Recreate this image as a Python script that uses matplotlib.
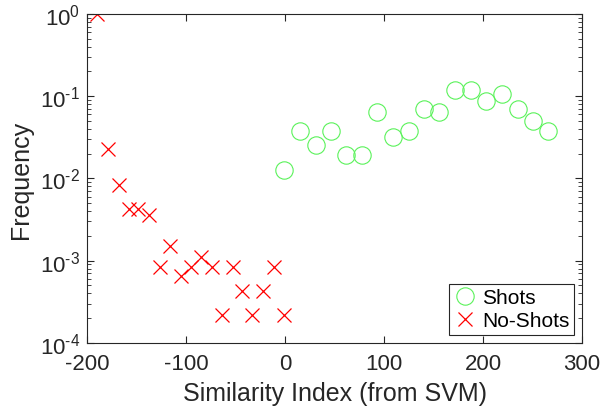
import numpy as np
import matplotlib
matplotlib.use("Agg")
import matplotlib.pyplot as plt
from matplotlib.ticker import LogLocator, NullFormatter, FuncFormatter

plt.rcParams['font.family'] = ['Liberation Sans', 'DejaVu Sans']
plt.rcParams['axes.unicode_minus'] = False
plt.rcParams['mathtext.fontset'] = 'custom'
plt.rcParams['mathtext.rm'] = 'Liberation Sans'
plt.rcParams['mathtext.it'] = 'Liberation Sans'

shots_x = [-1, 15, 31, 46, 62, 78, 93, 109, 125, 140, 156, 172, 188, 203, 219, 235, 250, 266]
shots_y = [0.0128, 0.038, 0.0255, 0.038, 0.0193, 0.0193, 0.064, 0.032, 0.038, 0.070,
           0.064, 0.12, 0.12, 0.088, 0.106, 0.070, 0.050, 0.038]

noshots_x = [-190, -179, -168, -158, -148, -137, -126, -116, -105, -95,
             -85, -74, -64, -53, -43, -33, -22, -11, -1]
noshots_y = [1.0, 0.0229, 0.0084, 0.0043, 0.0042, 0.0036, 0.00085, 0.0015, 0.00066, 0.00085,
             0.0011, 0.00085, 0.00022, 0.00085, 0.00043, 0.00022, 0.00043, 0.00085, 0.00022]

fig = plt.figure(figsize=(6.02, 4.10), dpi=100)
ax = fig.add_axes([0.1445, 0.161, 0.8223, 0.8025])

ax.semilogy(shots_x, shots_y, 'o', mfc='none', mec=(0.35, 0.95, 0.35), ms=12.5, mew=0.8, label='Shots')
ax.semilogy(noshots_x, noshots_y, 'x', color='red', ms=10.5, mew=0.9, label='No-Shots')

ax.set_xlim(-200, 300)
ax.set_ylim(1e-4, 1)
ax.set_xticks([-200, -100, 0, 100, 200, 300])
ax.yaxis.set_major_locator(LogLocator(base=10, numticks=10))
ax.yaxis.set_minor_locator(LogLocator(base=10, subs=np.arange(2, 10), numticks=10))
ax.yaxis.set_minor_formatter(NullFormatter())

def powfmt(v, pos):
    e = int(round(np.log10(v)))
    if e < 0:
        return r'$10^{\text{-}%d}$' % (-e)
    return r'$10^{%d}$' % e

ax.yaxis.set_major_formatter(FuncFormatter(powfmt))

gray = (0.15, 0.15, 0.15)
for s in ax.spines.values():
    s.set_color(gray)
    s.set_linewidth(0.8)
ax.tick_params(which='both', direction='in', top=True, right=True, colors=gray, labelcolor=gray, labelsize=16)
ax.tick_params(which='major', length=5)
ax.tick_params(which='minor', length=3)
ax.tick_params(axis='x', pad=7)
ax.tick_params(axis='y', pad=5)

ax.set_xlabel('Similarity Index (from SVM)', fontsize=18, color=gray, labelpad=5)
ax.set_ylabel('Frequency', fontsize=18, color=gray, labelpad=5)

leg = ax.legend(loc='lower right', fontsize=15, fancybox=False, framealpha=1, borderpad=0.2,
                handletextpad=0.2, handlelength=1.2, borderaxespad=0.4, labelspacing=0.2)
leg.get_frame().set_edgecolor(gray)
leg.get_frame().set_linewidth(0.8)

fig.savefig('out.png', dpi=100)
